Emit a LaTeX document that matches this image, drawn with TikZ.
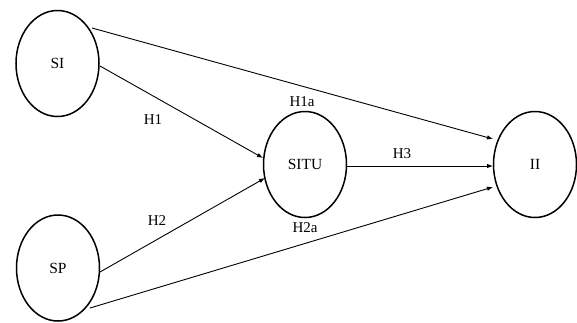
\documentclass[tikz,border=0pt]{standalone}
\usepackage{fontspec}
\setmainfont{Liberation Serif}
\usetikzlibrary{shapes.geometric,arrows.meta}
\begin{document}
\begin{tikzpicture}[x=1pt,y=-1pt,
  construct/.style={ellipse,draw,line width=1.5pt,minimum width=83pt,minimum height=106pt,inner sep=0pt,font=\fontsize{15.5}{17}\selectfont},
  path/.style={line width=0.9pt,-{Latex[length=6pt,width=4.5pt]}},
  lbl/.style={font=\fontsize{15}{17}\selectfont,inner sep=1pt}]
\useasboundingbox (0,0) rectangle (577,322);
\node[construct] (SI) at (57.5,63.5) {SI};
\node[construct] (SP) at (58,268) {SP};
\node[construct] (SITU) at (305,164.5) {SITU};
\node[construct] (II) at (535,164.5) {II};
\coordinate (siA) at (92,28);
\coordinate (siB) at (100,66);
\coordinate (spA) at (100,272);
\coordinate (spB) at (90,308);
\coordinate (iiA) at (493,139);
\coordinate (iiB) at (493,166);
\coordinate (iiC) at (493,187);
\coordinate (tuA) at (263,158);
\coordinate (tuB) at (265,178);
\coordinate (tuC) at (347,166);
\draw[path] (siA) -- (iiA);
\draw[path] (siB) -- (tuA);
\draw[path] (spA) -- (tuB);
\draw[path] (spB) -- (iiC);
\draw[path] (tuC) -- (iiB);
\node[lbl] (h1) at (153,120) {H1};
\node[lbl] (h2) at (157,221) {H2};
\node[lbl] (h1a) at (302,102) {H1a};
\node[lbl] (h2a) at (305,228) {H2a};
\node[lbl] (h3) at (402,154) {H3};
\end{tikzpicture}
\end{document}
